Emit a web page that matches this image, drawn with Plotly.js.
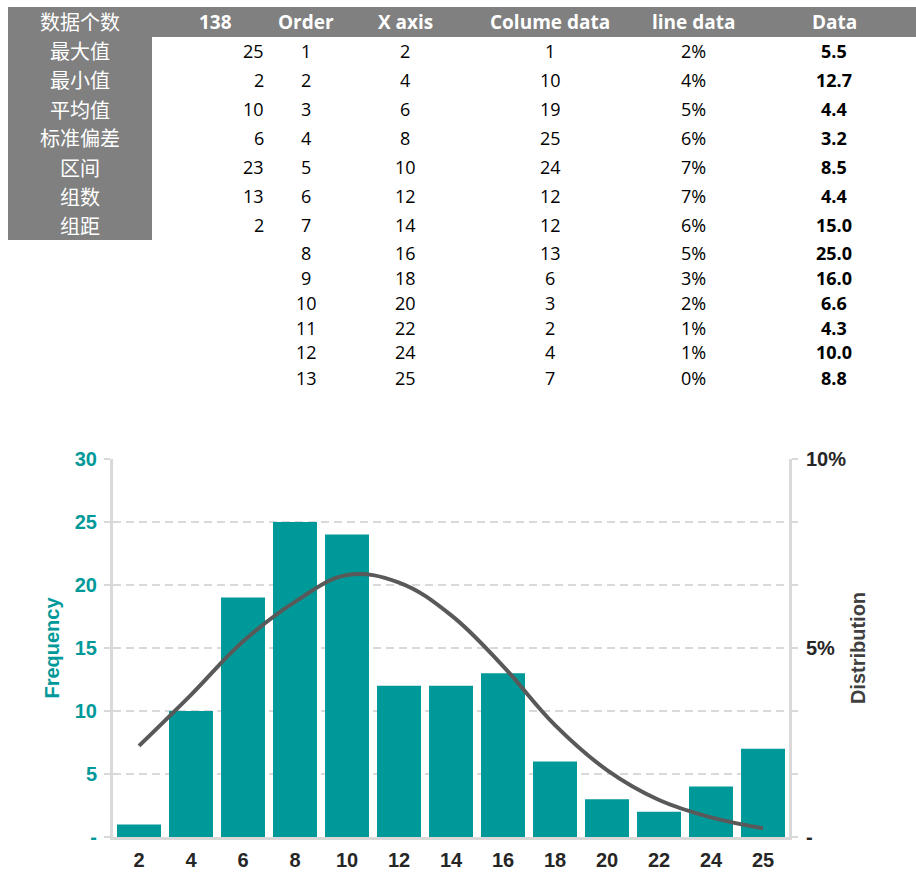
<!DOCTYPE html>
<html>
<head>
<meta charset="utf-8">
<script src="https://cdn.plot.ly/plotly-3.0.1.min.js"></script>
<style>
  html, body { margin: 0; padding: 0; background: #ffffff; }
  #chart { width: 916px; height: 873px; }
</style>
</head>
<body>
<div id="chart"></div>
<script>
// ---------- data ----------
const dataCount = 138;
const statLabels = ['最大值', '最小值', '平均值', '标准偏差', '区间', '组数', '组距'];
const statValues = [25, 2, 10, 6, 23, 13, 2];
const headerLabels = ['Order', 'X axis', 'Colume data', 'line data', 'Data'];
const orderNums = [1, 2, 3, 4, 5, 6, 7, 8, 9, 10, 11, 12, 13];
const xCategories = ['2', '4', '6', '8', '10', '12', '14', '16', '18', '20', '22', '24', '25'];
const columeData = [1, 10, 19, 25, 24, 12, 12, 13, 6, 3, 2, 4, 7];
const lineLabels = ['2%', '4%', '5%', '6%', '7%', '7%', '6%', '5%', '3%', '2%', '1%', '1%', '0%'];
const rawData = ['5.5', '12.7', '4.4', '3.2', '8.5', '4.4', '15.0', '25.0', '16.0', '6.6', '4.3', '10.0', '8.8'];
const distribution = [0.0241, 0.0376, 0.0517, 0.0622, 0.0693, 0.0673, 0.0587, 0.0452, 0.0296, 0.0177, 0.0098, 0.0052, 0.0023];
const freqTicks = [0, 5, 10, 15, 20, 25, 30];
const freqTickText = ['-', '5', '10', '15', '20', '25', '30'];
const distTicks = [0, 0.1/6, 0.2/6, 0.05, 0.4/6, 0.5/6, 0.1];
const distTickText = ['-', '', '', '5%', '', '', '10%'];

// ---------- layout helpers (pixel -> paper) ----------
const L = 113, R = 789, T = 459, B = 837;
const W = R - L, H = B - T;
const px = p => (p - L) / W;
const py = p => (B - p) / H;

const TEAL = '#009999';
const GREY = '#808080';
const latin = '"Open Sans", "Noto Sans", "Noto Sans CJK SC", sans-serif';
const cjk = '"Noto Sans CJK SC", sans-serif';
const arial = '"Liberation Sans", Arial, sans-serif';

const annotations = [];
function addText(text, x, y, opts) {
  annotations.push(Object.assign({
    text: text, x: px(x), y: py(y), xref: 'paper', yref: 'paper',
    showarrow: false, xanchor: 'center', yanchor: 'middle',
    font: { family: latin, size: 18, color: '#000000' }
  }, opts || {}));
}

// header row
const headerY = 22;
addText('数据个数', 80, headerY, { font: { family: cjk, size: 20, color: '#ffffff' } });
addText('<b>' + dataCount + '</b>', 215, headerY, { font: { family: latin, size: 19, color: '#ffffff' } });
const colX = [306, 405, 550, 693, 834];
headerLabels.forEach((h, i) => addText('<b>' + h + '</b>', colX[i], headerY, { font: { family: latin, size: 19, color: '#ffffff' } }));

// row y positions
function rowY(i) { return i < 7 ? 51 + 29 * i : 252.5 + 25 * (i - 7); }

statLabels.forEach((s, i) => {
  addText(s, 80, rowY(i), { font: { family: cjk, size: 20, color: '#ffffff' } });
  addText(String(statValues[i]), 266, rowY(i), { xanchor: 'right' });
});
orderNums.forEach((o, i) => {
  const y = rowY(i);
  addText(String(o), colX[0], y);
  addText(xCategories[i], colX[1], y);
  addText(String(columeData[i]), colX[2], y);
  addText(lineLabels[i], colX[3], y);
  addText('<b>' + rawData[i] + '</b>', colX[4], y);
});

const shapes = [
  { type: 'rect', xref: 'paper', yref: 'paper', x0: px(8), x1: px(916), y0: py(7), y1: py(37),
    fillcolor: GREY, line: { width: 0 }, layer: 'below' },
  { type: 'rect', xref: 'paper', yref: 'paper', x0: px(8), x1: px(152), y0: py(37), y1: py(240),
    fillcolor: GREY, line: { width: 0 }, layer: 'below' }
];

// ---------- traces ----------
const bars = {
  type: 'bar', x: xCategories, y: columeData, name: 'Frequency',
  marker: { color: TEAL }, yaxis: 'y', hoverinfo: 'x+y'
};
const curve = {
  type: 'scatter', mode: 'lines', x: xCategories, y: distribution, name: 'Distribution',
  yaxis: 'y2', line: { color: '#595959', width: 4, shape: 'spline', smoothing: 1.1 }
};

const layout = {
  width: 916, height: 873,
  margin: { l: L, r: 916 - R, t: T, b: 873 - B, pad: 0 },
  paper_bgcolor: '#ffffff', plot_bgcolor: '#ffffff',
  showlegend: false, bargap: 0.154,
  font: { family: arial },
  xaxis: {
    type: 'category', range: [-0.5, 12.5], showgrid: false, zeroline: false,
    showline: true, linecolor: '#d9d9d9', linewidth: 3, ticks: '',
    ticklabelstandoff: 3,
    tickfont: { family: arial, size: 20, color: '#262626', weight: 'bold' },
    fixedrange: true
  },
  yaxis: {
    range: [0, 30], tickvals: freqTicks, ticktext: freqTickText,
    showgrid: true, gridcolor: '#d9d9d9', gridwidth: 1.5, griddash: '8px,5px',
    zeroline: false, showline: true, linecolor: '#d9d9d9', linewidth: 3,
    ticks: 'outside', ticklen: 6, tickwidth: 2, tickcolor: '#d9d9d9',
    ticklabelstandoff: 3,
    tickfont: { family: arial, size: 20, color: TEAL, weight: 'bold' },
    title: { text: '<b>Frequency</b>', standoff: 10,
      font: { family: arial, size: 20, color: TEAL } },
    fixedrange: true
  },
  yaxis2: {
    overlaying: 'y', side: 'right', range: [0, 0.1],
    tickvals: distTicks, ticktext: distTickText,
    showgrid: false, zeroline: false, showline: true, linecolor: '#d9d9d9', linewidth: 3,
    ticks: 'outside', ticklen: 6, tickwidth: 2, tickcolor: '#d9d9d9',
    ticklabelstandoff: 4,
    tickfont: { family: arial, size: 20, color: '#262626', weight: 'bold' },
    title: { text: '<b>Distribution</b>', standoff: 6,
      font: { family: arial, size: 20, color: '#404040' } },
    fixedrange: true
  },
  annotations: annotations,
  shapes: shapes
};

Plotly.newPlot('chart', [bars, curve], layout, { displayModeBar: false, staticPlot: true });
</script>
</body>
</html>
